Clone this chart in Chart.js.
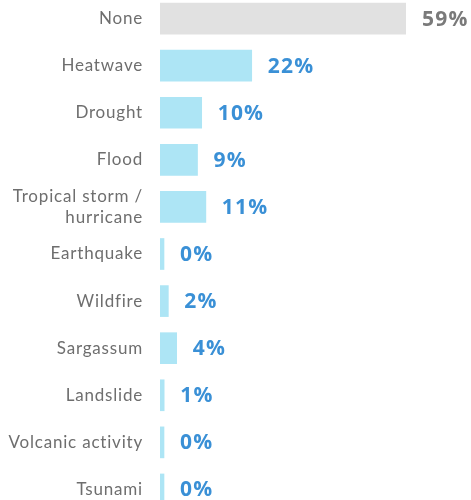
<!DOCTYPE html>
<html>
<head>
<meta charset="utf-8">
<script src="https://cdn.jsdelivr.net/npm/chart.js@4/dist/chart.umd.min.js"></script>
<style>
html,body{margin:0;padding:0;background:#fff;overflow:hidden;width:471px;height:500px;}
#wrap{position:absolute;left:0;top:-5px;width:471px;height:518px;}
</style>
</head>
<body>
<div id="wrap"><canvas id="c"></canvas></div>
<script>
const categories = ["None","Heatwave","Drought","Flood",["Tropical storm /","hurricane"],"Earthquake","Wildfire","Sargassum","Landslide","Volcanic activity","Tsunami"];
const values = [59,22,10,9,11,0,2,4,1,0,0];
const barColors = ["#e1e1e1","#ade5f5","#ade5f5","#ade5f5","#ade5f5","#ade5f5","#ade5f5","#ade5f5","#ade5f5","#ade5f5","#ade5f5"];
const valueColors = ["#7a7a7a","#3a90d6","#3a90d6","#3a90d6","#3a90d6","#3a90d6","#3a90d6","#3a90d6","#3a90d6","#3a90d6","#3a90d6"];

const spacing = {id:'spacing', beforeDraw(chart){ chart.ctx.letterSpacing='0.8px'; }};
const valueLabels = {
  id:'valueLabels',
  afterDatasetsDraw(chart){
    const ctx = chart.ctx;
    const meta = chart.getDatasetMeta(0);
    ctx.save();
    ctx.letterSpacing='1.2px';
    ctx.font = 'bold 21px "Open Sans", Lato, sans-serif';
    ctx.textBaseline='middle';
    ctx.textAlign='left';
    meta.data.forEach((bar,i)=>{
      ctx.fillStyle = valueColors[i];
      ctx.fillText(values[i]+'%', bar.x+16, bar.y+1);
    });
    ctx.restore();
  }
};

new Chart(document.getElementById('c'),{
  type:'bar',
  data:{labels:categories,datasets:[{data:values,backgroundColor:barColors,barThickness:31,minBarLength:4,borderWidth:0}]},
  options:{
    indexAxis:'y',
    responsive:true,maintainAspectRatio:false,animation:false,
    layout:{padding:{top:0,bottom:0,left:0,right:65}},
    plugins:{legend:{display:false},tooltip:{enabled:false}},
    scales:{
      x:{min:0,max:59,display:false,grid:{display:false}},
      y:{
        grid:{display:false,drawTicks:false},border:{display:false},
        ticks:{color:'#6e6e6e',font:{family:'Lato, "Open Sans", sans-serif',size:17},padding:17,autoSkip:false},
        afterFit(s){s.width=160;s.paddingTop=0;s.paddingBottom=0;}
      }
    }
  },
  plugins:[spacing,valueLabels]
});
</script>
</body>
</html>
